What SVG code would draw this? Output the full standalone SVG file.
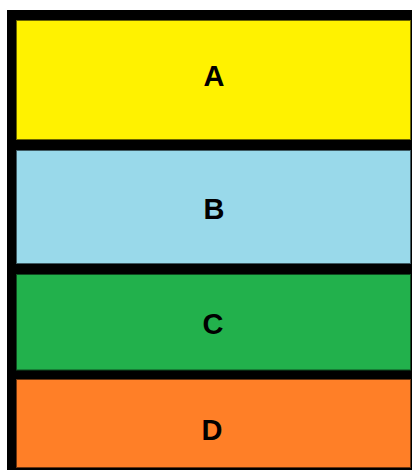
<svg xmlns="http://www.w3.org/2000/svg" width="412" height="472" viewBox="0 0 412 472">
  <style>
    .lbl { font-family: "Liberation Sans", Arial, sans-serif; font-weight: bold; font-size: 29px; fill: #000; text-anchor: middle; }
    .box { stroke-width: 1; }
  </style>
  <rect x="0" y="0" width="412" height="472" fill="#ffffff"/>
  <rect id="frame" x="7" y="10" width="405" height="460" fill="#000000"/>
  <g id="A">
    <rect class="box" x="16.5" y="20.5" width="394" height="119" fill="#fff200" stroke="#6b6500"/>
    <text class="lbl" x="214" y="86">A</text>
  </g>
  <g id="B">
    <rect class="box" x="16.5" y="150.5" width="394" height="113" fill="#99d9ea" stroke="#3f5a62"/>
    <text class="lbl" x="214" y="219">B</text>
  </g>
  <g id="C">
    <rect class="box" x="16.5" y="274.5" width="394" height="95.5" fill="#22b14c" stroke="#0f4a20"/>
    <text class="lbl" x="213" y="334">C</text>
  </g>
  <g id="D">
    <rect class="box" x="16.5" y="379.5" width="394" height="88" fill="#ff7f27" stroke="#6b3510"/>
    <text class="lbl" x="212" y="440">D</text>
  </g>
  <g id="connectors"/>
</svg>
